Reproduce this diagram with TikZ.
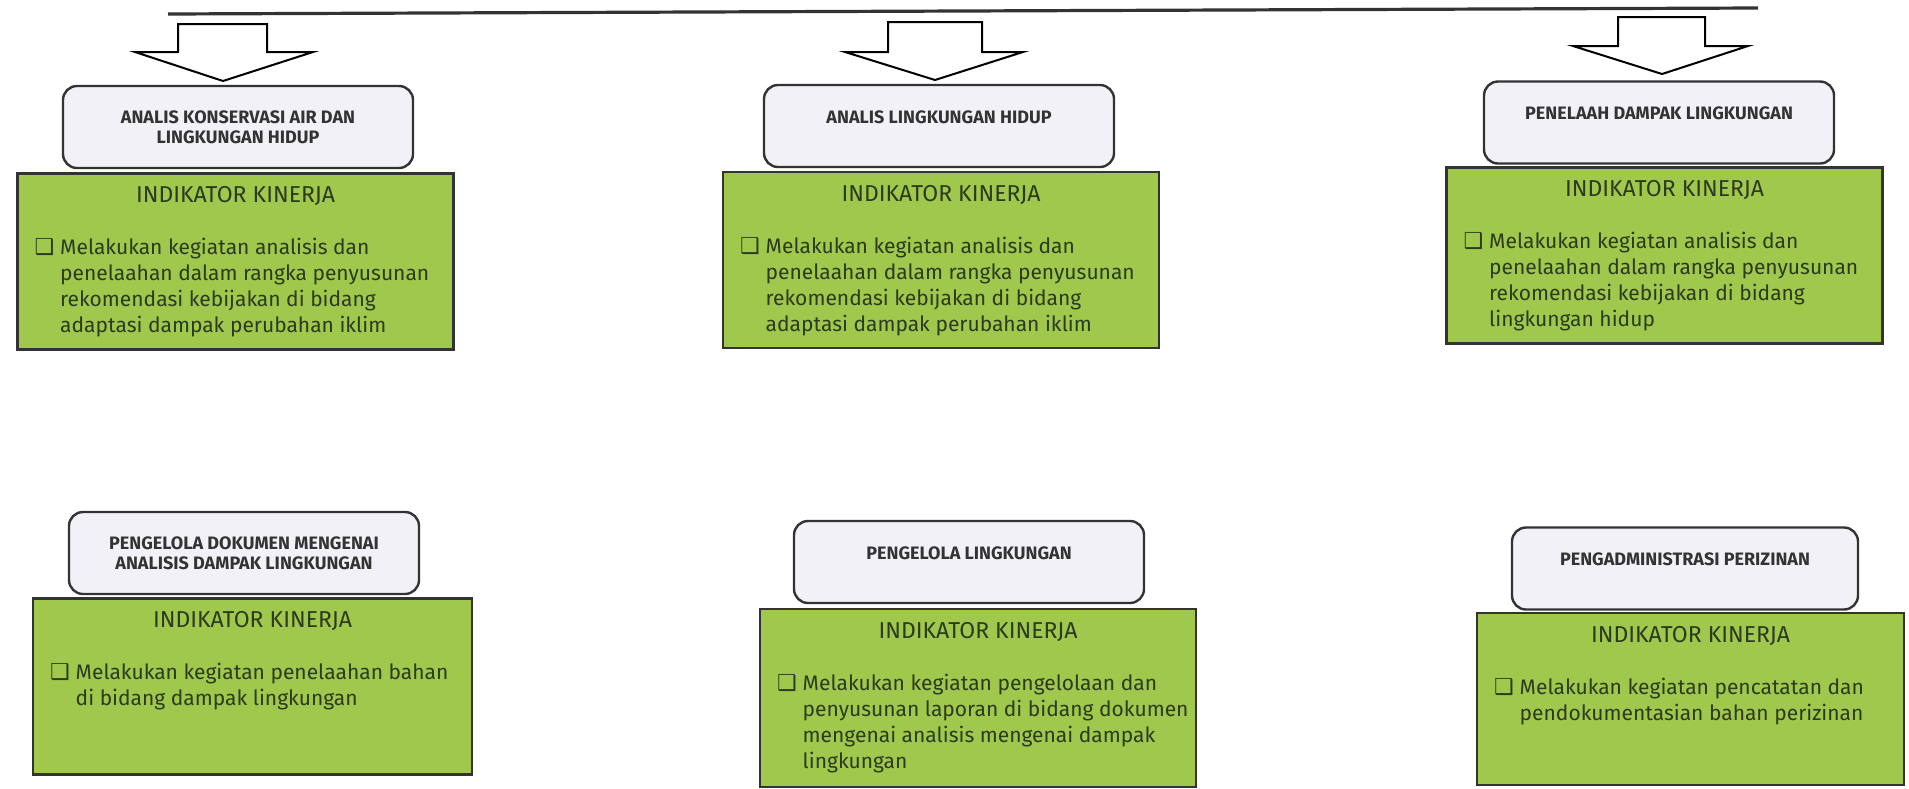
\documentclass[tikz,border=0pt]{standalone}
\usepackage{fontspec}
\setmainfont{Fira Sans}
\newfontfamily\symfont{DejaVu Sans}
\usepackage{xcolor}
\usetikzlibrary{positioning}
\definecolor{leafgreen}{HTML}{A0C84C}
\definecolor{rolefill}{HTML}{F3F1F8}
\definecolor{boxline}{HTML}{333333}
\definecolor{inktext}{HTML}{2C3A1F}
\newcommand{\sqmark}{{\symfont\fontsize{11}{11}\selectfont ❑}}

\begin{document}
\begin{tikzpicture}[x=0.5pt,y=-0.5pt]
\tikzstyle{role}=[draw=boxline,line width=1.2pt,rounded corners=7pt,fill=rolefill,align=center,
  minimum width=175pt,minimum height=41pt,inner sep=0pt,text=boxline,
  font=\bfseries\fontsize{9}{10}\selectfont]
\tikzstyle{oneline}=[text depth=9pt]
\tikzstyle{indbox}=[draw=boxline,line width=1.4pt,fill=leafgreen,minimum width=218pt,minimum height=88pt,inner sep=0pt]
\tikzstyle{indtitle}=[inner sep=0pt,text=inktext,font=\fontsize{11.5}{14}\selectfont]
\tikzstyle{indtext}=[inner sep=0pt,text=inktext,font=\fontsize{10.5}{13}\selectfont]
\tikzstyle{blockarr}=[draw=black,line width=1pt,fill=white,line join=miter]
\useasboundingbox (0,0) rectangle (1909,788);

% garis atas dan panah
\coordinate (barL) at (168,14);
\coordinate (barR) at (1758,8);
\draw[line width=1.6pt,boxline] (barL)--(barR);
\draw[blockarr] (178,24)--(267,24)--(267,52)--(313,52)--(223,81)--(135,52)--(178,52)--cycle;
\draw[blockarr] (888,22)--(982,22)--(982,52)--(1023,52)--(935,80)--(845,52)--(888,52)--cycle;
\draw[blockarr] (1618,17)--(1705,17)--(1705,46)--(1748,46)--(1662,74)--(1573,46)--(1618,46)--cycle;

% baris atas
\node[role] (konservasi) at (238,127) {ANALIS KONSERVASI AIR DAN\\LINGKUNGAN HIDUP};
\node[indbox] (indA) at (235.5,261.5) {};
\node[indtitle,below=7pt of indA.north] (titA) {INDIKATOR KINERJA};
\node[indtext,below right=32pt and 9pt of indA.north west] (txtA)
  {\begin{tabular}{@{}l@{\hspace{3pt}}l@{}}\sqmark & Melakukan kegiatan analisis dan\\
  & penelaahan dalam rangka penyusunan\\ & rekomendasi kebijakan di bidang\\
  & adaptasi dampak perubahan iklim\end{tabular}};

\node[role,oneline] (lingkungan) at (939,126) {ANALIS LINGKUNGAN HIDUP};
\node[indbox] (indB) at (941,260) {};
\node[indtitle,below=7pt of indB.north] (titB) {INDIKATOR KINERJA};
\node[indtext,below right=32pt and 9pt of indB.north west] (txtB)
  {\begin{tabular}{@{}l@{\hspace{3pt}}l@{}}\sqmark & Melakukan kegiatan analisis dan\\
  & penelaahan dalam rangka penyusunan\\ & rekomendasi kebijakan di bidang\\
  & adaptasi dampak perubahan iklim\end{tabular}};

\node[role,oneline] (penelaah) at (1659,122.5) {PENELAAH DAMPAK LINGKUNGAN};
\node[indbox] (indC) at (1664.5,255.5) {};
\node[indtitle,below=7pt of indC.north] (titC) {INDIKATOR KINERJA};
\node[indtext,below right=32pt and 9pt of indC.north west] (txtC)
  {\begin{tabular}{@{}l@{\hspace{3pt}}l@{}}\sqmark & Melakukan kegiatan analisis dan\\
  & penelaahan dalam rangka penyusunan\\ & rekomendasi kebijakan di bidang\\
  & lingkungan hidup\end{tabular}};

% baris bawah
\node[role] (dokumen) at (244,553) {PENGELOLA DOKUMEN MENGENAI\\ANALISIS DAMPAK LINGKUNGAN};
\node[indbox,minimum width=219.5pt] (indD) at (252.5,686.5) {};
\node[indtitle,below=7pt of indD.north] (titD) {INDIKATOR KINERJA};
\node[indtext,below right=32pt and 9pt of indD.north west] (txtD)
  {\begin{tabular}{@{}l@{\hspace{3pt}}l@{}}\sqmark & Melakukan kegiatan penelaahan bahan\\
  & di bidang dampak lingkungan\end{tabular}};

\node[role,oneline] (pengelola) at (969,562) {PENGELOLA LINGKUNGAN};
\node[indbox,minimum height=89pt] (indE) at (978,698) {};
\node[indtitle,below=7pt of indE.north] (titE) {INDIKATOR KINERJA};
\node[indtext,below right=32pt and 9pt of indE.north west] (txtE)
  {\begin{tabular}{@{}l@{\hspace{3pt}}l@{}}\sqmark & Melakukan kegiatan pengelolaan dan\\
  & penyusunan laporan di bidang dokumen\\ & mengenai analisis mengenai dampak\\
  & lingkungan\end{tabular}};

\node[role,oneline,minimum width=173pt] (perizinan) at (1685,568.5) {PENGADMINISTRASI PERIZINAN};
\node[indbox,minimum width=213.5pt,minimum height=86pt] (indF) at (1690.5,699) {};
\node[indtitle,below=7pt of indF.north] (titF) {INDIKATOR KINERJA};
\node[indtext,below right=32pt and 9pt of indF.north west] (txtF)
  {\begin{tabular}{@{}l@{\hspace{3pt}}l@{}}\sqmark & Melakukan kegiatan pencatatan dan\\
  & pendokumentasian bahan perizinan\end{tabular}};
\end{tikzpicture}
\end{document}
